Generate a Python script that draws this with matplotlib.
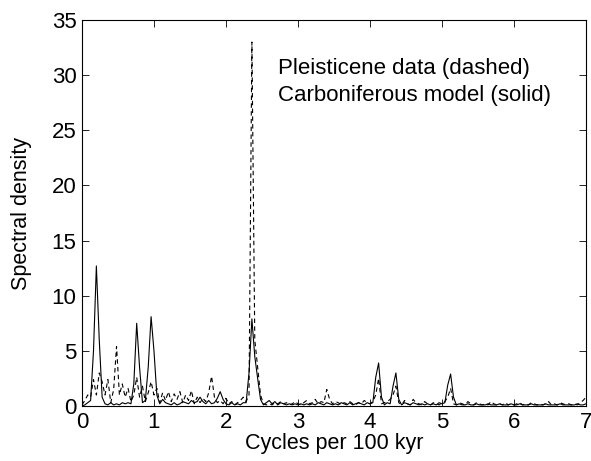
import numpy as np
import matplotlib
matplotlib.use("Agg")
import matplotlib.pyplot as plt

plt.rcParams['font.family'] = ['Liberation Sans', 'DejaVu Sans']

# frequency grid (cycles per 100 kyr), 0.04 spacing
freq = np.round(np.arange(176) * 0.04, 2)

# Carboniferous model spectrum (solid)
model = [
    0.0, 0.1, 0.3, 0.5, 5.0, 12.7, 6.0, 0.8, 0.2, 0.1,
    0.3, 0.1, 0.2, 0.1, 0.3, 0.2, 0.3, 0.2, 2.0, 7.5,
    3.5, 0.3, 0.5, 3.5, 8.1, 5.0, 1.0, 0.2, 0.6, 0.3,
    0.2, 0.1, 0.3, 0.1, 0.2, 0.4, 0.3, 0.2, 0.5, 0.3,
    0.4, 0.8, 0.4, 0.2, 0.5, 0.2, 0.3, 0.7, 1.3, 0.6,
    0.2, 0.1, 0.3, 0.1, 0.2, 0.1, 0.3, 0.3, 3.0, 7.9,
    4.5, 2.5, 0.6, 0.1, 0.3, 0.5, 0.2, 0.4, 0.1, 0.3,
    0.2, 0.1, 0.2, 0.1, 0.2, 0.1, 0.2, 0.1, 0.2, 0.1,
    0.2, 0.1, 0.3, 0.2, 0.1, 0.3, 0.2, 0.1, 0.2, 0.1,
    0.3, 0.2, 0.1, 0.3, 0.1, 0.2, 0.3, 0.2, 0.1, 0.3,
    0.2, 0.3, 2.6, 3.9, 0.8, 0.1, 0.3, 0.2, 1.8, 3.0,
    0.6, 0.1, 0.3, 0.2, 0.1, 0.3, 0.2, 0.1, 0.2, 0.1,
    0.2, 0.1, 0.2, 0.1, 0.3, 0.2, 0.3, 1.9, 2.9, 0.8,
    0.1, 0.2, 0.1, 0.1, 0.2, 0.1, 0.1, 0.2, 0.1, 0.1,
    0.1, 0.2, 0.1, 0.1, 0.1, 0.2, 0.1, 0.1, 0.1, 0.2,
    0.1, 0.1, 0.2, 0.1, 0.1, 0.1, 0.2, 0.1, 0.1, 0.1,
    0.1, 0.2, 0.1, 0.1, 0.1, 0.1, 0.2, 0.1, 0.1, 0.1,
    0.1, 0.1, 0.2, 0.1, 0.1, 0.2,
]

# Pleistocene data spectrum (dashed)
data = [
    0.1, 0.5, 1.0, 0.8, 2.4, 1.0, 3.0, 2.2, 1.0, 2.4,
    0.3, 1.5, 5.4, 1.0, 2.0, 0.8, 1.6, 0.4, 1.0, 2.6,
    0.8, 1.8, 0.4, 1.2, 2.2, 1.0, 1.6, 0.3, 1.2, 0.5,
    1.3, 0.4, 1.1, 0.6, 1.3, 0.3, 1.0, 0.5, 1.4, 0.2,
    0.8, 0.3, 0.7, 0.4, 1.2, 2.7, 0.8, 0.3, 0.5, 0.2,
    0.7, 0.2, 0.4, 0.1, 0.3, 0.5, 0.8, 0.4, 1.0, 33.0,
    6.0, 3.5, 1.0, 0.2, 0.1, 0.2, 0.1, 0.3, 0.2, 0.4,
    0.2, 0.3, 0.1, 0.2, 0.4, 0.2, 0.1, 0.3, 0.5, 0.2,
    0.3, 0.6, 0.2, 0.4, 0.3, 1.5, 0.6, 0.2, 0.4, 0.3,
    0.1, 0.3, 0.2, 0.4, 0.2, 0.1, 0.3, 0.2, 0.5, 0.3,
    0.2, 0.4, 1.0, 2.5, 0.2, 0.3, 0.4, 0.6, 1.0, 1.8,
    0.3, 0.1, 0.5, 0.2, 0.1, 0.6, 0.3, 0.2, 0.1, 0.4,
    0.2, 0.1, 0.3, 0.2, 0.1, 0.3, 0.4, 0.8, 1.6, 0.2,
    0.1, 0.3, 0.2, 0.1, 0.4, 0.2, 0.1, 0.3, 0.2, 0.1,
    0.2, 0.1, 0.4, 0.2, 0.1, 0.2, 0.1, 0.3, 0.1, 0.2,
    0.1, 0.2, 0.3, 0.1, 0.2, 0.1, 0.3, 0.2, 0.1, 0.2,
    0.1, 0.2, 0.4, 0.1, 0.2, 0.1, 0.3, 0.2, 0.1, 0.2,
    0.1, 0.2, 0.1, 0.3, 0.5, 0.8,
]

fig = plt.figure(figsize=(5.91, 4.61), dpi=100)
ax = fig.add_axes([0.1387, 0.1193, 0.8528, 0.8373])

ax.plot(freq, data, color="k", lw=0.8, linestyle=(0, (4, 3)))
ax.plot(freq, model, color="k", lw=0.8)

ax.set_xlim(0, 7)
ax.set_ylim(0, 35)
ax.set_xticks(range(0, 8))
ax.set_yticks(range(0, 36, 5))
ax.tick_params(direction="in", length=5, width=0.6, labelsize=16,
               top=True, right=True, pad=4)
for s in ax.spines.values():
    s.set_linewidth(0.8)

ax.set_xlabel("Cycles per 100 kyr", fontsize=15.5, labelpad=0)
ax.set_ylabel("Spectral density", fontsize=15.5, labelpad=14)

ax.text(2.72, 30.6, "Pleisticene data (dashed)", fontsize=16, va="center")
ax.text(2.72, 28.2, "Carboniferous model (solid)", fontsize=16, va="center")

fig.savefig("out.png", dpi=100)
